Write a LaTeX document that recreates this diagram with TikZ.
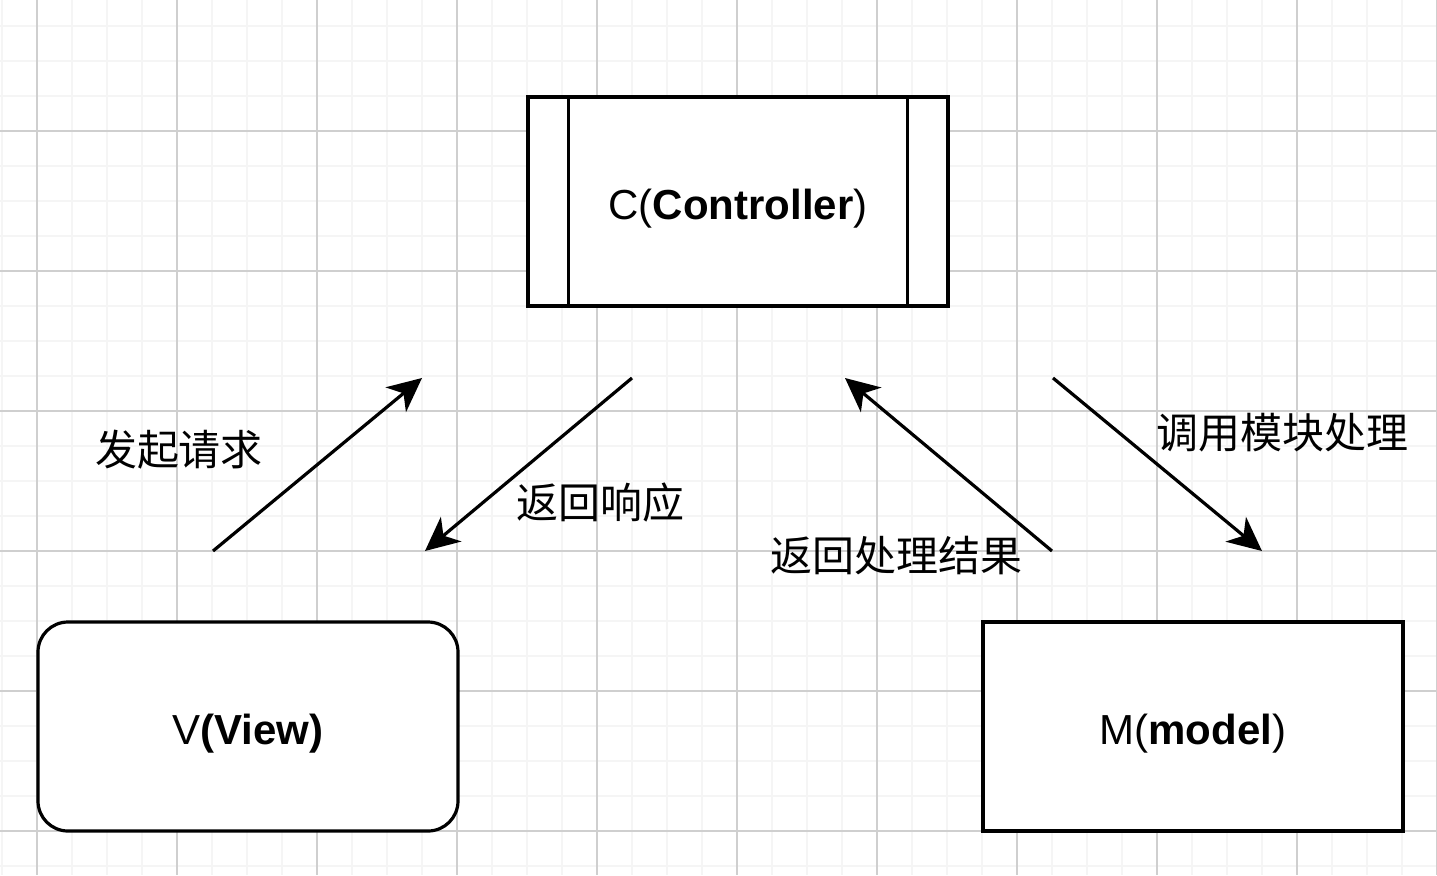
\documentclass[tikz,border=0pt]{standalone}
\usepackage{fontspec}
\setmainfont{Liberation Sans}
\newfontfamily\cjk{Noto Sans CJK SC}
\usetikzlibrary{arrows.meta}

\begin{document}
\begin{tikzpicture}[x=0.5pt, y=-0.5pt, line width=1.6pt,
  font=\fontsize{21}{25}\selectfont,
  box/.style={draw,fill=white,minimum width=210pt,minimum height=104.5pt,inner sep=0pt,
    text height=17.5pt,text depth=0pt},
  rbox/.style={box,rounded corners=15pt},
  lbl/.style={font=\fontsize{21}{25}\selectfont\cjk,inner sep=0pt},
  flow/.style={-{Stealth[length=17pt,width=16pt,inset=5pt]}},
  minorgrid/.style={line width=0.6pt,draw=black!4},
  majorgrid/.style={line width=0.6pt,draw=black!19}]
\useasboundingbox (0,0) rectangle (1437,875);
% background grid
\foreach \gx in {2,37,...,1437} \draw[minorgrid] (\gx,0) -- (\gx,875);
\foreach \gy in {26,61,...,875} \draw[minorgrid] (0,\gy) -- (1437,\gy);
\foreach \gx in {37,177,...,1437} \draw[majorgrid] (\gx,0) -- (\gx,875);
\foreach \gy in {131,271,...,875} \draw[majorgrid] (0,\gy) -- (1437,\gy);
% the three parts
\node[box] (ctrl) at (738,201.5) {C(\textbf{Controller})};
\draw ([xshift=21pt]ctrl.north west) -- ([xshift=21pt]ctrl.south west);
\draw ([xshift=-21pt]ctrl.north east) -- ([xshift=-21pt]ctrl.south east);
\node[rbox] (view) at (248,726.5) {V\textbf{(View)}};
\node[box] (model) at (1193,726.5) {M(\textbf{model})};
% arrow ends
\coordinate (v1) at (213,551);
\coordinate (c1) at (422,378);
\coordinate (c2) at (632,378);
\coordinate (v2) at (425,551);
\coordinate (m1) at (1052,551);
\coordinate (c3) at (845,378);
\coordinate (c4) at (1053,378);
\coordinate (m2) at (1262,551);
\draw[flow] (v1) -- (c1);
\draw[flow] (c2) -- (v2);
\draw[flow] (m1) -- (c3);
\draw[flow] (c4) -- (m2);
% labels
\node[lbl] (req) at (179,450) {发起请求};
\node[lbl] (resp) at (600,503) {返回响应};
\node[lbl] (res) at (896,556) {返回处理结果};
\node[lbl] (call) at (1282,433) {调用模块处理};
\end{tikzpicture}
\end{document}
